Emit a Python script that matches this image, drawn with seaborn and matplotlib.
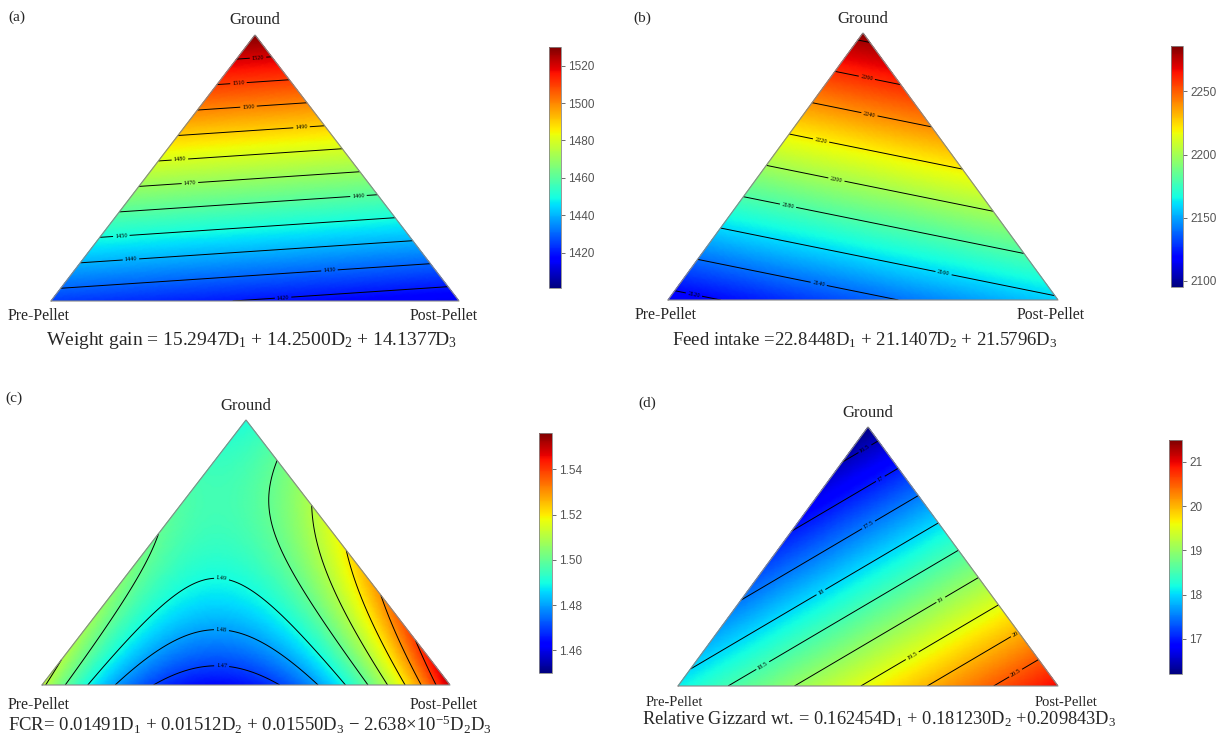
import numpy as np
import matplotlib
matplotlib.use("Agg")
import matplotlib.pyplot as plt
import matplotlib.tri as mtri
import seaborn as sns

# ---------------- data ----------------
panel_tags = ["(a)", "(b)", "(c)", "(d)"]
response_names = ["Weight gain", "Feed intake", "FCR", "Relative Gizzard wt."]
vertex_labels = ["Ground", "Pre-Pellet", "Post-Pellet"]   # D1, D2, D3

coef_weight_gain = [15.2947, 14.2500, 14.1377]
coef_feed_intake = [22.8448, 21.1407, 21.5796]
coef_fcr = [0.01491, 0.01512, 0.01550]
fcr_d2d3 = -2.638e-5
coef_gizzard = [0.162454, 0.181230, 0.209843]

levels_wg = [1420, 1430, 1440, 1450, 1460, 1470, 1480, 1490, 1500, 1510, 1520]
levels_fi = [2120, 2140, 2160, 2180, 2200, 2220, 2240, 2260, 2280]
levels_fcr = [1.47, 1.48, 1.49, 1.50, 1.51, 1.52, 1.53, 1.54, 1.55]
levels_gz = [16.5, 17.0, 17.5, 18.0, 18.5, 19.0, 19.5, 20.0, 20.5]
labelled_fcr = [1.47, 1.48, 1.49]

ticks_wg = [1420, 1440, 1460, 1480, 1500, 1520]
ticks_fi = [2100, 2150, 2200, 2250]
ticks_fcr = [1.46, 1.48, 1.50, 1.52, 1.54]
ticks_gz = [17, 18, 19, 20, 21]

range_wg = [1401, 1530]
range_fi = [2095, 2286]
range_fcr = [1.450, 1.556]
range_gz = [16.21, 21.49]

# ---------------- style ----------------
sns.set_theme(style="white")
plt.rcParams["font.family"] = ["Liberation Serif", "DejaVu Serif"]
plt.rcParams["mathtext.fontset"] = "custom"
plt.rcParams["mathtext.rm"] = "Liberation Serif"
plt.rcParams["mathtext.it"] = "Liberation Serif:italic"

W, H = 1226, 738
fig = plt.figure(figsize=(W / 100, H / 100), dpi=100)
fig.patch.set_facecolor("white")


def box(x0, y0, x1, y1):
    return [x0 / W, 1 - y1 / H, (x1 - x0) / W, (y1 - y0) / H]


def ftext(x, y, s, **kw):
    fig.text(x / W, 1 - y / H, s, **kw)


# ternary grid (fractions), D1 = Ground (top), D2 = Pre-Pellet (left), D3 = Post-Pellet (right)
n = 160
ii, jj = np.meshgrid(np.arange(n + 1), np.arange(n + 1), indexing="ij")
m = ii + jj <= n
d1 = ii[m] / n
d3 = jj[m] / n
d2 = 1 - d1 - d3
gx = d3 + d1 / 2
gy = d1
tri = mtri.Triangulation(gx, gy)

P1, P2, P3 = d1 * 100, d2 * 100, d3 * 100


def lin(c):
    return c[0] * P1 + c[1] * P2 + c[2] * P3


surfaces = [
    lin(coef_weight_gain),
    lin(coef_feed_intake),
    lin(coef_fcr) + fcr_d2d3 * P2 * P3,
    lin(coef_gizzard),
]


def eq(c, fmt):
    return (f"{c[0]:{fmt}}D$_1$ + {c[1]:{fmt}}D$_2$ + {c[2]:{fmt}}D$_3$")


equations = [
    "Weight gain = " + eq(coef_weight_gain, ".4f"),
    "Feed intake =" + eq(coef_feed_intake, ".4f"),
    "FCR= " + eq(coef_fcr, ".5f") + f" \u2212 {abs(fcr_d2d3) * 1e5:.3f}\u00d710$^{{-5}}$D$_2$D$_3$",
    "Relative Gizzard wt. = " + f"{coef_gizzard[0]:.6f}D$_1$ + {coef_gizzard[1]:.6f}D$_2$ +{coef_gizzard[2]:.6f}D$_3$",
]

levels = [levels_wg, levels_fi, levels_fcr, levels_gz]
labelled = [levels_wg, levels_fi, labelled_fcr, levels_gz]
ticks = [ticks_wg, ticks_fi, ticks_fcr, ticks_gz]
ranges = [range_wg, range_fi, range_fcr, range_gz]
fmts = ["%.0f", "%.0f", "%.2f", "%g"]
tickfmt = ["{:.0f}", "{:.0f}", "{:.2f}", "{:.0f}"]
# label anchor points (axes fraction) for the FCR arches
fcr_label_spots = [(0.44, 0.40), (0.44, 0.21), (0.44, 0.06)]

# layout (pixels)
tri_boxes = [(51, 35, 459, 301), (668, 33, 1058, 300), (42, 420, 450, 685), (678, 427, 1058, 686)]
cbar_boxes = [(549, 47, 561, 288), (1171, 46, 1183, 287), (539, 433, 552, 673), (1169, 440, 1182, 674)]
tag_pos = [(8, 17), (633, 18), (5, 398), (638, 403)]
ground_y = [20, 19, 406, 413]
pre_x = [8, 635, 8, 646]
post_x = [478, 1085, 478, 1097]
vert_y = [316, 315, 705, 703]
vert_size = [11.3, 11.3, 11.3, 10.5]
eq_pos = [(251, 340), (865, 340), (250, 725), (879, 719)]
eq_size = [14, 13.5, 13.5, 13.2]

for k in range(4):
    ax = fig.add_axes(box(*tri_boxes[k]))
    ax.set_xlim(0, 1)
    ax.set_ylim(0, 1)
    ax.axis("off")
    z = surfaces[k]
    vmin, vmax = ranges[k]
    pc = ax.tripcolor(tri, z, shading="gouraud", cmap="jet", vmin=vmin, vmax=vmax)
    cs = ax.tricontour(tri, z, levels=levels[k], colors="black", linewidths=0.7)
    lab_levels = [lv for lv in cs.levels if any(abs(lv - q) < 1e-9 for q in labelled[k])]
    if k == 2:
        ax.clabel(cs, levels=lab_levels, fmt=fmts[k], fontsize=4.5, inline=True,
                  inline_spacing=2, manual=fcr_label_spots)
    else:
        ax.clabel(cs, levels=lab_levels, fmt=fmts[k], fontsize=4.5, inline=True, inline_spacing=2)
    ax.plot([0, 0.5, 1, 0], [0, 1, 0, 0], color="#888888", lw=0.8, clip_on=False)

    cax = fig.add_axes(box(*cbar_boxes[k]))
    cb = fig.colorbar(pc, cax=cax)
    cb.set_ticks(ticks[k])
    cb.set_ticklabels([tickfmt[k].format(t) for t in ticks[k]])
    cax.tick_params(axis="y", right=True, length=3, width=0.6, colors="#555555", labelsize=8.5, pad=2)
    for lab in cax.get_yticklabels():
        lab.set_fontfamily(["Liberation Sans", "DejaVu Sans"])
    cb.outline.set_edgecolor("#888888")
    cb.outline.set_linewidth(0.6)

    x0, y0, x1, y1 = tri_boxes[k]
    ftext(tag_pos[k][0], tag_pos[k][1], panel_tags[k], fontsize=11, ha="left", va="center")
    ftext((x0 + x1) / 2, ground_y[k], vertex_labels[0], fontsize=12, ha="center", va="center")
    ftext(pre_x[k], vert_y[k], vertex_labels[1], fontsize=vert_size[k], ha="left", va="center")
    ftext(post_x[k], vert_y[k], vertex_labels[2], fontsize=vert_size[k], ha="right", va="center")
    ftext(eq_pos[k][0], eq_pos[k][1], equations[k], fontsize=eq_size[k], ha="center", va="center")

fig.savefig("out.png", dpi=100, facecolor="white")
